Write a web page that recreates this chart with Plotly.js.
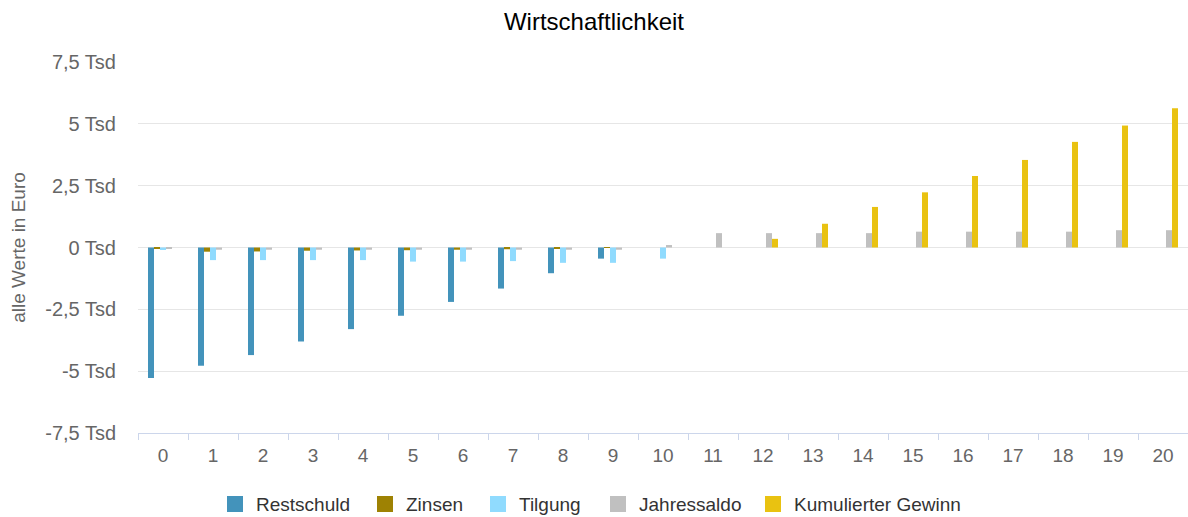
<!DOCTYPE html>
<html>
<head>
<meta charset="utf-8">
<script src="https://cdn.plot.ly/plotly-3.0.1.min.js"></script>
<style>html,body{margin:0;padding:0;background:#fff;}#chart{width:1188px;height:517px;}</style>
</head>
<body>
<div id="chart"></div>
<script>
const years = ["0","1","2","3","4","5","6","7","8","9","10","11","12","13","14","15","16","17","18","19","20"];
const restschuld = [-5280,-4780,-4350,-3800,-3300,-2760,-2200,-1660,-1040,-450,0,0,0,0,0,0,0,0,0,0,0];
const zinsen = [-40,-170,-160,-130,-120,-110,-90,-70,-50,-20,0,0,0,0,0,0,0,0,0,0,0];
const tilgung = [-100,-510,-510,-510,-510,-570,-570,-550,-620,-620,-450,0,0,0,0,0,0,0,0,0,0];
const jahressaldo = [-60,-90,-90,-90,-90,-90,-90,-90,-90,-90,100,580,580,580,580,640,640,640,640,700,700];
const kumuliert = [0,0,0,0,0,0,0,0,0,0,0,0,350,960,1640,2230,2890,3540,4270,4930,5630];
const seriesNames = ["Restschuld","Zinsen","Tilgung","Jahressaldo","Kumulierter Gewinn"];
const colors = ["#4393bb","#9e8203","#90dbfe","#c0c0c0","#e9c211"];
const yTickVals = [-7500,-5000,-2500,0,2500,5000,7500];
const yTickText = ["-7,5 Tsd","-5 Tsd","-2,5 Tsd","0 Tsd","2,5 Tsd","5 Tsd","7,5 Tsd"];

const W = 1188, H = 517;
const M = {l: 138, r: 0, t: 62, b: 84};
const plotW = W - M.l - M.r, plotH = H - M.t - M.b;
const px2x = p => (p - M.l) / plotW;
const px2y = p => (H - M.b - p) / plotH;

const seriesData = [restschuld, zinsen, tilgung, jahressaldo, kumuliert];
const traces = seriesData.map((vals, i) => ({
  type: "bar",
  name: seriesNames[i],
  x: years,
  y: vals,
  marker: {color: colors[i], line: {width: 0}},
  hoverinfo: "x+y+name",
  showlegend: false
}));

const font = "Liberation Sans, Arial, sans-serif";

// custom legend (Highcharts-like spacing)
const legendIconLeft = [227, 377, 490, 610, 765];
const legendCenterY = 504;
const shapes = [], annotations = [];
seriesNames.forEach((n, i) => {
  shapes.push({
    type: "rect", xref: "paper", yref: "paper",
    x0: px2x(legendIconLeft[i]), x1: px2x(legendIconLeft[i] + 16),
    y0: px2y(legendCenterY + 8), y1: px2y(legendCenterY - 8),
    fillcolor: colors[i], line: {width: 0}
  });
  annotations.push({
    xref: "paper", yref: "paper",
    x: px2x(legendIconLeft[i] + 27), y: px2y(legendCenterY),
    xanchor: "left", yanchor: "middle",
    text: n, showarrow: false,
    font: {family: font, size: 19, color: "#333333"}
  });
});

const layout = {
  width: W,
  height: H,
  margin: M,
  paper_bgcolor: "#ffffff",
  plot_bgcolor: "#ffffff",
  barmode: "group",
  bargap: 0.4,
  bargroupgap: 0,
  font: {family: font, color: "#666666"},
  title: {
    text: "Wirtschaftlichkeit",
    font: {family: font, size: 24, color: "#000000"},
    x: 0.5, xanchor: "center",
    y: 1 - 22/517, yanchor: "middle", yref: "container"
  },
  xaxis: {
    type: "category",
    range: [-0.5, 20.5],
    showline: true,
    linecolor: "#ccd6eb",
    linewidth: 1,
    ticks: "outside",
    tickson: "boundaries",
    ticklen: 6,
    tickcolor: "#ccd6eb",
    ticklabelstandoff: 5,
    showgrid: false,
    tickfont: {family: font, size: 19, color: "#666666"},
    zeroline: false,
    fixedrange: true
  },
  yaxis: {
    range: [-7500, 7500],
    tickvals: yTickVals,
    ticktext: yTickText,
    showgrid: true,
    gridcolor: "#e6e6e6",
    gridwidth: 1,
    zeroline: false,
    showline: false,
    ticks: "outside",
    ticklen: 17,
    tickcolor: "rgba(0,0,0,0)",
    tickfont: {family: font, size: 20, color: "#666666"},
    title: {text: "alle Werte in Euro", font: {family: font, size: 19, color: "#666666"}, standoff: 14},
    fixedrange: true
  },
  showlegend: false,
  shapes: shapes,
  annotations: annotations
};

Plotly.newPlot("chart", traces, layout, {displayModeBar: false, responsive: false});
</script>
</body>
</html>
